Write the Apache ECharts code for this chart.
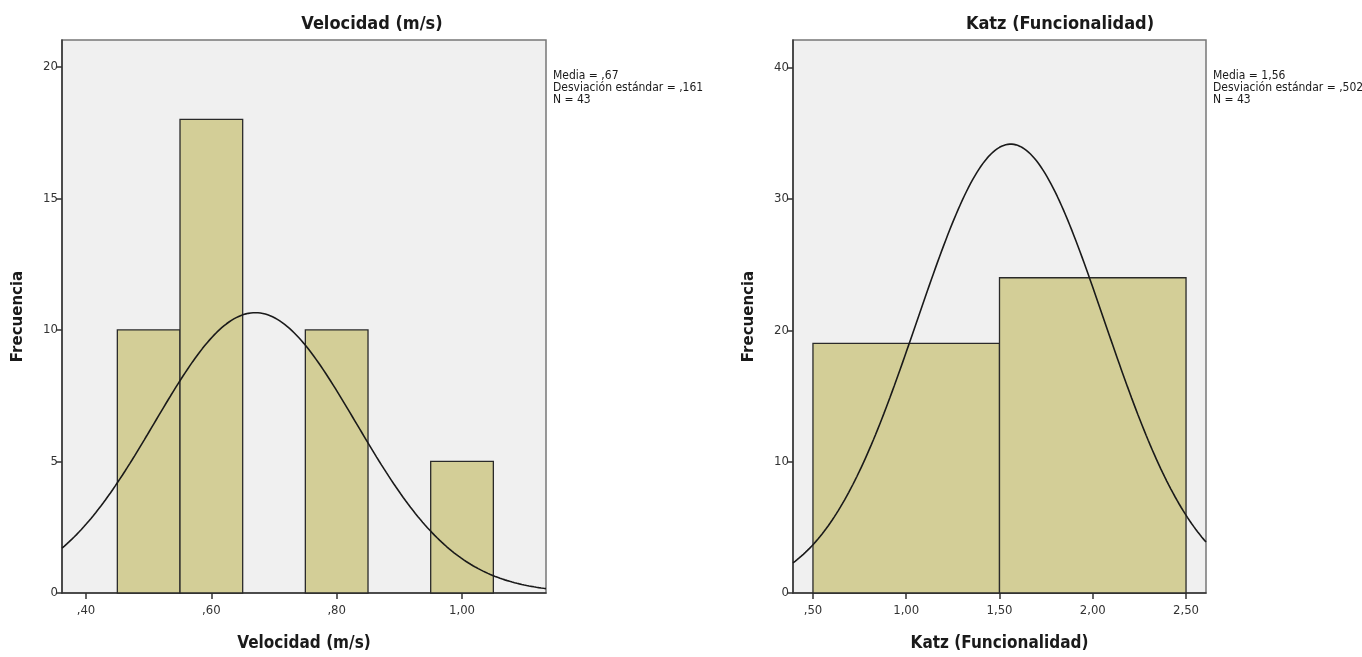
<!DOCTYPE html>
<html>
<head>
<meta charset="utf-8">
<script src="https://cdn.jsdelivr.net/npm/echarts@6/dist/echarts.min.js"></script>
<style>
  html, body { margin: 0; padding: 0; background: #ffffff; }
  #chart { width: 1362px; height: 657px; }
</style>
</head>
<body>
<div id="chart"></div>
<script>
// Velocidad (m/s): bin starts and frequencies (bin width 0.10)
const velBinStart = [0.45, 0.55, 0.75, 0.95];
const velFreq = [10, 18, 10, 5];
const velBinWidth = 0.10;
const velMean = 0.67, velSd = 0.161, velN = 43;
const velXTicks = [0.40, 0.60, 0.80, 1.00];
const velYTicks = [0, 5, 10, 15, 20];

// Katz (Funcionalidad): bin starts and frequencies (bin width 1.00)
const katzBinStart = [0.5, 1.5];
const katzFreq = [19, 24];
const katzBinWidth = 1.0;
const katzMean = 1.56, katzSd = 0.502, katzN = 43;
const katzXTicks = [0.50, 1.00, 1.50, 2.00, 2.50];
const katzYTicks = [0, 10, 20, 30, 40];

const NARROW = '"Liberation Sans Narrow", "DejaVu Sans Condensed", "Arial Narrow", sans-serif';
const WIDE = '"DejaVu Sans", "Liberation Sans", Arial, sans-serif';

// SPSS-style Spanish number format: comma decimal, no leading zero
function spssNum(v, digits) {
  let s = v.toFixed(digits === undefined ? 2 : digits).replace('.', ',');
  if (s.startsWith('0,')) s = s.slice(1);
  return s;
}

// Fitted normal curve scaled to frequency (N * bin width * density)
function normalCurve(mean, sd, n, width, xmin, xmax, steps) {
  const pts = [];
  for (let i = 0; i <= steps; i++) {
    const x = xmin + (xmax - xmin) * i / steps;
    const z = (x - mean) / sd;
    pts.push([x, n * width * Math.exp(-0.5 * z * z) / (sd * Math.sqrt(2 * Math.PI))]);
  }
  return pts;
}

function binData(starts, freqs, width) {
  return starts.map((s, i) => [s, s + width, freqs[i]]);
}

function renderBin(params, api) {
  const p0 = api.coord([api.value(0), api.value(2)]);
  const p1 = api.coord([api.value(1), 0]);
  return {
    type: 'rect',
    shape: { x: p0[0], y: p0[1], width: p1[0] - p0[0], height: p1[1] - p0[1] },
    style: { fill: '#d3ce97', stroke: '#2a2a2a', lineWidth: 1.3 }
  };
}

const velRange = [0.3617, 1.134];
const katzRange = [0.393, 2.607];

function xAxisCfg(gridIndex, range, ticks, name) {
  return {
    type: 'value', gridIndex, min: range[0], max: range[1],
    name, nameLocation: 'middle', nameGap: 42,
    nameTextStyle: { fontFamily: NARROW, fontWeight: 'bold', fontSize: 17, color: '#1a1a1a' },
    axisLine: { show: true, onZero: false, lineStyle: { color: '#333', width: 1.5 } },
    axisTick: { show: true, customValues: ticks, length: 6, lineStyle: { color: '#333', width: 1.5 } },
    axisLabel: { customValues: ticks, formatter: v => spssNum(v, 2), fontFamily: NARROW, fontSize: 13, color: '#333', margin: 11 },
    splitLine: { show: false }
  };
}

function yAxisCfg(gridIndex, max, ticks) {
  return {
    type: 'value', gridIndex, min: 0, max,
    name: 'Frecuencia', nameLocation: 'middle', nameGap: 36,
    nameTextStyle: { fontFamily: WIDE, fontWeight: 'bold', fontSize: 15, color: '#1a1a1a' },
    axisLine: { show: true, lineStyle: { color: '#333', width: 1.5 } },
    axisTick: { show: true, customValues: ticks, length: 6, lineStyle: { color: '#333', width: 1.5 } },
    axisLabel: { customValues: ticks, fontFamily: NARROW, fontSize: 13, color: '#333', margin: 4 },
    splitLine: { show: false }
  };
}

function statsText(mean, meanDigits, sd, n) {
  return 'Media = ' + spssNum(mean, meanDigits) + '\nDesviación estándar = ' + spssNum(sd, 3) + '\nN = ' + n;
}

const chart = echarts.init(document.getElementById('chart'), null, { renderer: 'canvas' });
chart.setOption({
  animation: false,
  backgroundColor: '#ffffff',
  title: [
    { text: 'Velocidad (m/s)', left: 367, top: 10, textAlign: 'center',
      textStyle: { fontFamily: NARROW, fontWeight: 'bold', fontSize: 18, color: '#1a1a1a' } },
    { text: 'Katz (Funcionalidad)', left: 1055, top: 10, textAlign: 'center',
      textStyle: { fontFamily: NARROW, fontWeight: 'bold', fontSize: 18, color: '#1a1a1a' } }
  ],
  grid: [
    { left: 62, top: 40, width: 484, height: 554, show: true, backgroundColor: '#f0f0f0', borderColor: '#777', borderWidth: 1.5 },
    { left: 793, top: 40, width: 413, height: 555, show: true, backgroundColor: '#f0f0f0', borderColor: '#777', borderWidth: 1.5 }
  ],
  xAxis: [
    xAxisCfg(0, velRange, velXTicks, 'Velocidad (m/s)'),
    xAxisCfg(1, katzRange, katzXTicks, 'Katz (Funcionalidad)')
  ],
  yAxis: [
    yAxisCfg(0, 21.02, velYTicks),
    yAxisCfg(1, 42.1, katzYTicks)
  ],
  graphic: [
    { type: 'text', left: 553, top: 70, style: { text: statsText(velMean, 2, velSd, velN), font: '12px ' + NARROW, fill: '#1a1a1a', lineHeight: 12 } },
    { type: 'text', left: 1213, top: 70, style: { text: statsText(katzMean, 2, katzSd, katzN), font: '12px ' + NARROW, fill: '#1a1a1a', lineHeight: 12 } }
  ],
  series: [
    { type: 'custom', xAxisIndex: 0, yAxisIndex: 0, renderItem: renderBin,
      encode: { x: [0, 1], y: 2 }, data: binData(velBinStart, velFreq, velBinWidth), z: 2 },
    { type: 'line', xAxisIndex: 0, yAxisIndex: 0, showSymbol: false, smooth: false, silent: true,
      lineStyle: { color: '#1a1a1a', width: 1.6 }, z: 3,
      data: normalCurve(velMean, velSd, velN, velBinWidth, velRange[0], velRange[1], 200) },
    { type: 'custom', xAxisIndex: 1, yAxisIndex: 1, renderItem: renderBin,
      encode: { x: [0, 1], y: 2 }, data: binData(katzBinStart, katzFreq, katzBinWidth), z: 2 },
    { type: 'line', xAxisIndex: 1, yAxisIndex: 1, showSymbol: false, smooth: false, silent: true,
      lineStyle: { color: '#1a1a1a', width: 1.6 }, z: 3,
      data: normalCurve(katzMean, katzSd, katzN, katzBinWidth, katzRange[0], katzRange[1], 200) }
  ]
});
</script>
</body>
</html>
